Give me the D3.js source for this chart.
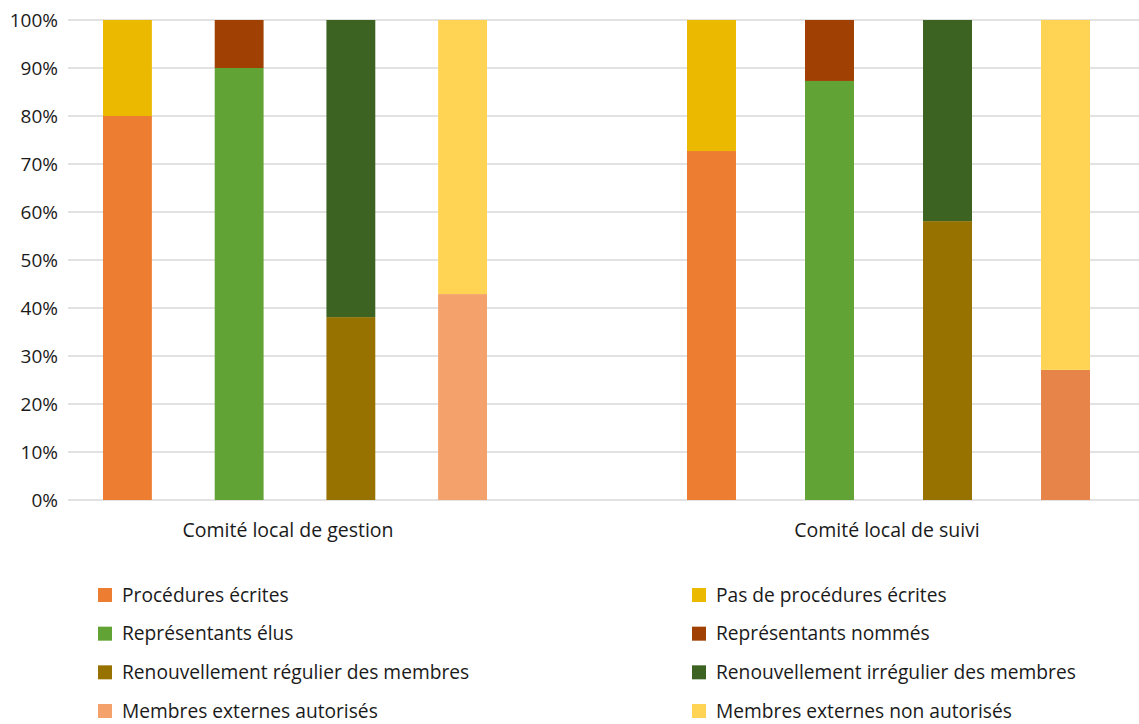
<!DOCTYPE html>
<html><head><meta charset="utf-8">
<script src="https://cdn.jsdelivr.net/npm/d3@7"></script>
<style>
body{margin:0;background:#fff;}
text{font-family:"Open Sans",sans-serif;fill:#1a1a1a;}
</style></head>
<body><svg id="c" width="1139" height="724"></svg>
<script>
// ---- data ----
const categories = ["Comité local de gestion", "Comité local de suivi"];
const barKeys = ["procedures", "representants", "renouvellement", "membres"];
const lowerSeries = ["Procédures écrites", "Représentants élus", "Renouvellement régulier des membres", "Membres externes autorisés"];
const upperSeries = ["Pas de procédures écrites", "Représentants nommés", "Renouvellement irrégulier des membres", "Membres externes non autorisés"];
const lowerGestion = [80, 90, 38.1, 42.9];
const upperGestion = [20, 10, 61.9, 57.1];
const lowerSuivi = [72.7, 87.3, 58.1, 27.1];
const upperSuivi = [27.3, 12.7, 41.9, 72.9];
const yTicks = [0, 10, 20, 30, 40, 50, 60, 70, 80, 90, 100];

// ---- colours ----
const lowerColors = ["#ED7D31", "#62A335", "#987200", "#F4A16C"];
const upperColors = ["#EBBA00", "#A04103", "#3D6322", "#FFD455"];
const lowerColorsSuivi = ["#ED7D31", "#62A335", "#987200", "#E6844A"];

const lowers = [lowerGestion, lowerSuivi];
const uppers = [upperGestion, upperSuivi];

const FONT = "'Open Sans', sans-serif";
const svg = d3.select("#c");
const y = d3.scaleLinear().domain([0, 100]).range([500, 20]);

// gridlines
svg.append("g").selectAll("line").data(yTicks).join("line")
  .attr("x1", 68).attr("x2", 1139)
  .attr("y1", d => y(d)).attr("y2", d => y(d))
  .attr("stroke", "#d9d9d9").attr("stroke-width", 1.5);

// y labels
const yAxis = d3.axisLeft(y).tickValues(yTicks).tickFormat(d => d + "%").tickSize(0).tickPadding(0);
const ga = svg.append("g").attr("transform", "translate(58,0)").call(yAxis);
ga.select(".domain").remove();
ga.selectAll("text").attr("font-size", 19).attr("font-family", FONT).attr("fill", "#1a1a1a").attr("dy", "0.35em");

// per-group bar scales
const groupSpans = [[103, 487], [687, 1090]];
const groupPad = [0.5625, 0.585];
const labelX = d3.scalePoint().domain(categories).range([288, 887]);

categories.forEach((cat, gi) => {
  const xb = d3.scaleBand().domain(barKeys).range(groupSpans[gi]).paddingInner(groupPad[gi]).paddingOuter(0);
  const g = svg.append("g");
  const lc = gi === 0 ? lowerColors : lowerColorsSuivi;
  const rows = barKeys.map((k, i) => ({k, lo: lowers[gi][i], up: uppers[gi][i], i}));
  g.selectAll("rect.lo").data(rows).join("rect").attr("class", "lo")
    .attr("x", d => xb(d.k)).attr("width", xb.bandwidth())
    .attr("y", d => y(d.lo)).attr("height", d => y(0) - y(d.lo))
    .attr("fill", d => lc[d.i]);
  g.selectAll("rect.up").data(rows).join("rect").attr("class", "up")
    .attr("x", d => xb(d.k)).attr("width", xb.bandwidth())
    .attr("y", d => y(d.lo + d.up)).attr("height", d => y(d.lo) - y(d.lo + d.up))
    .attr("fill", d => upperColors[d.i]);
  svg.append("text").attr("x", labelX(cat)).attr("y", 530).attr("dy", "0.35em")
    .attr("text-anchor", "middle").attr("font-size", 19.5).text(cat);
});

// legend
const legendCols = [98, 692];
const legendY = d3.scalePoint().domain(d3.range(4)).range([595, 711]);
[[lowerSeries, lowerColors], [upperSeries, upperColors]].forEach(([names, cols], ci) => {
  const lg = svg.append("g");
  names.forEach((n, i) => {
    lg.append("rect").attr("x", legendCols[ci]).attr("y", legendY(i) - 7).attr("width", 14).attr("height", 14).attr("fill", cols[i]);
    lg.append("text").attr("x", legendCols[ci] + 24).attr("y", legendY(i)).attr("dy", "0.35em")
      .attr("font-size", 19.2).text(n);
  });
});
</script></body></html>
